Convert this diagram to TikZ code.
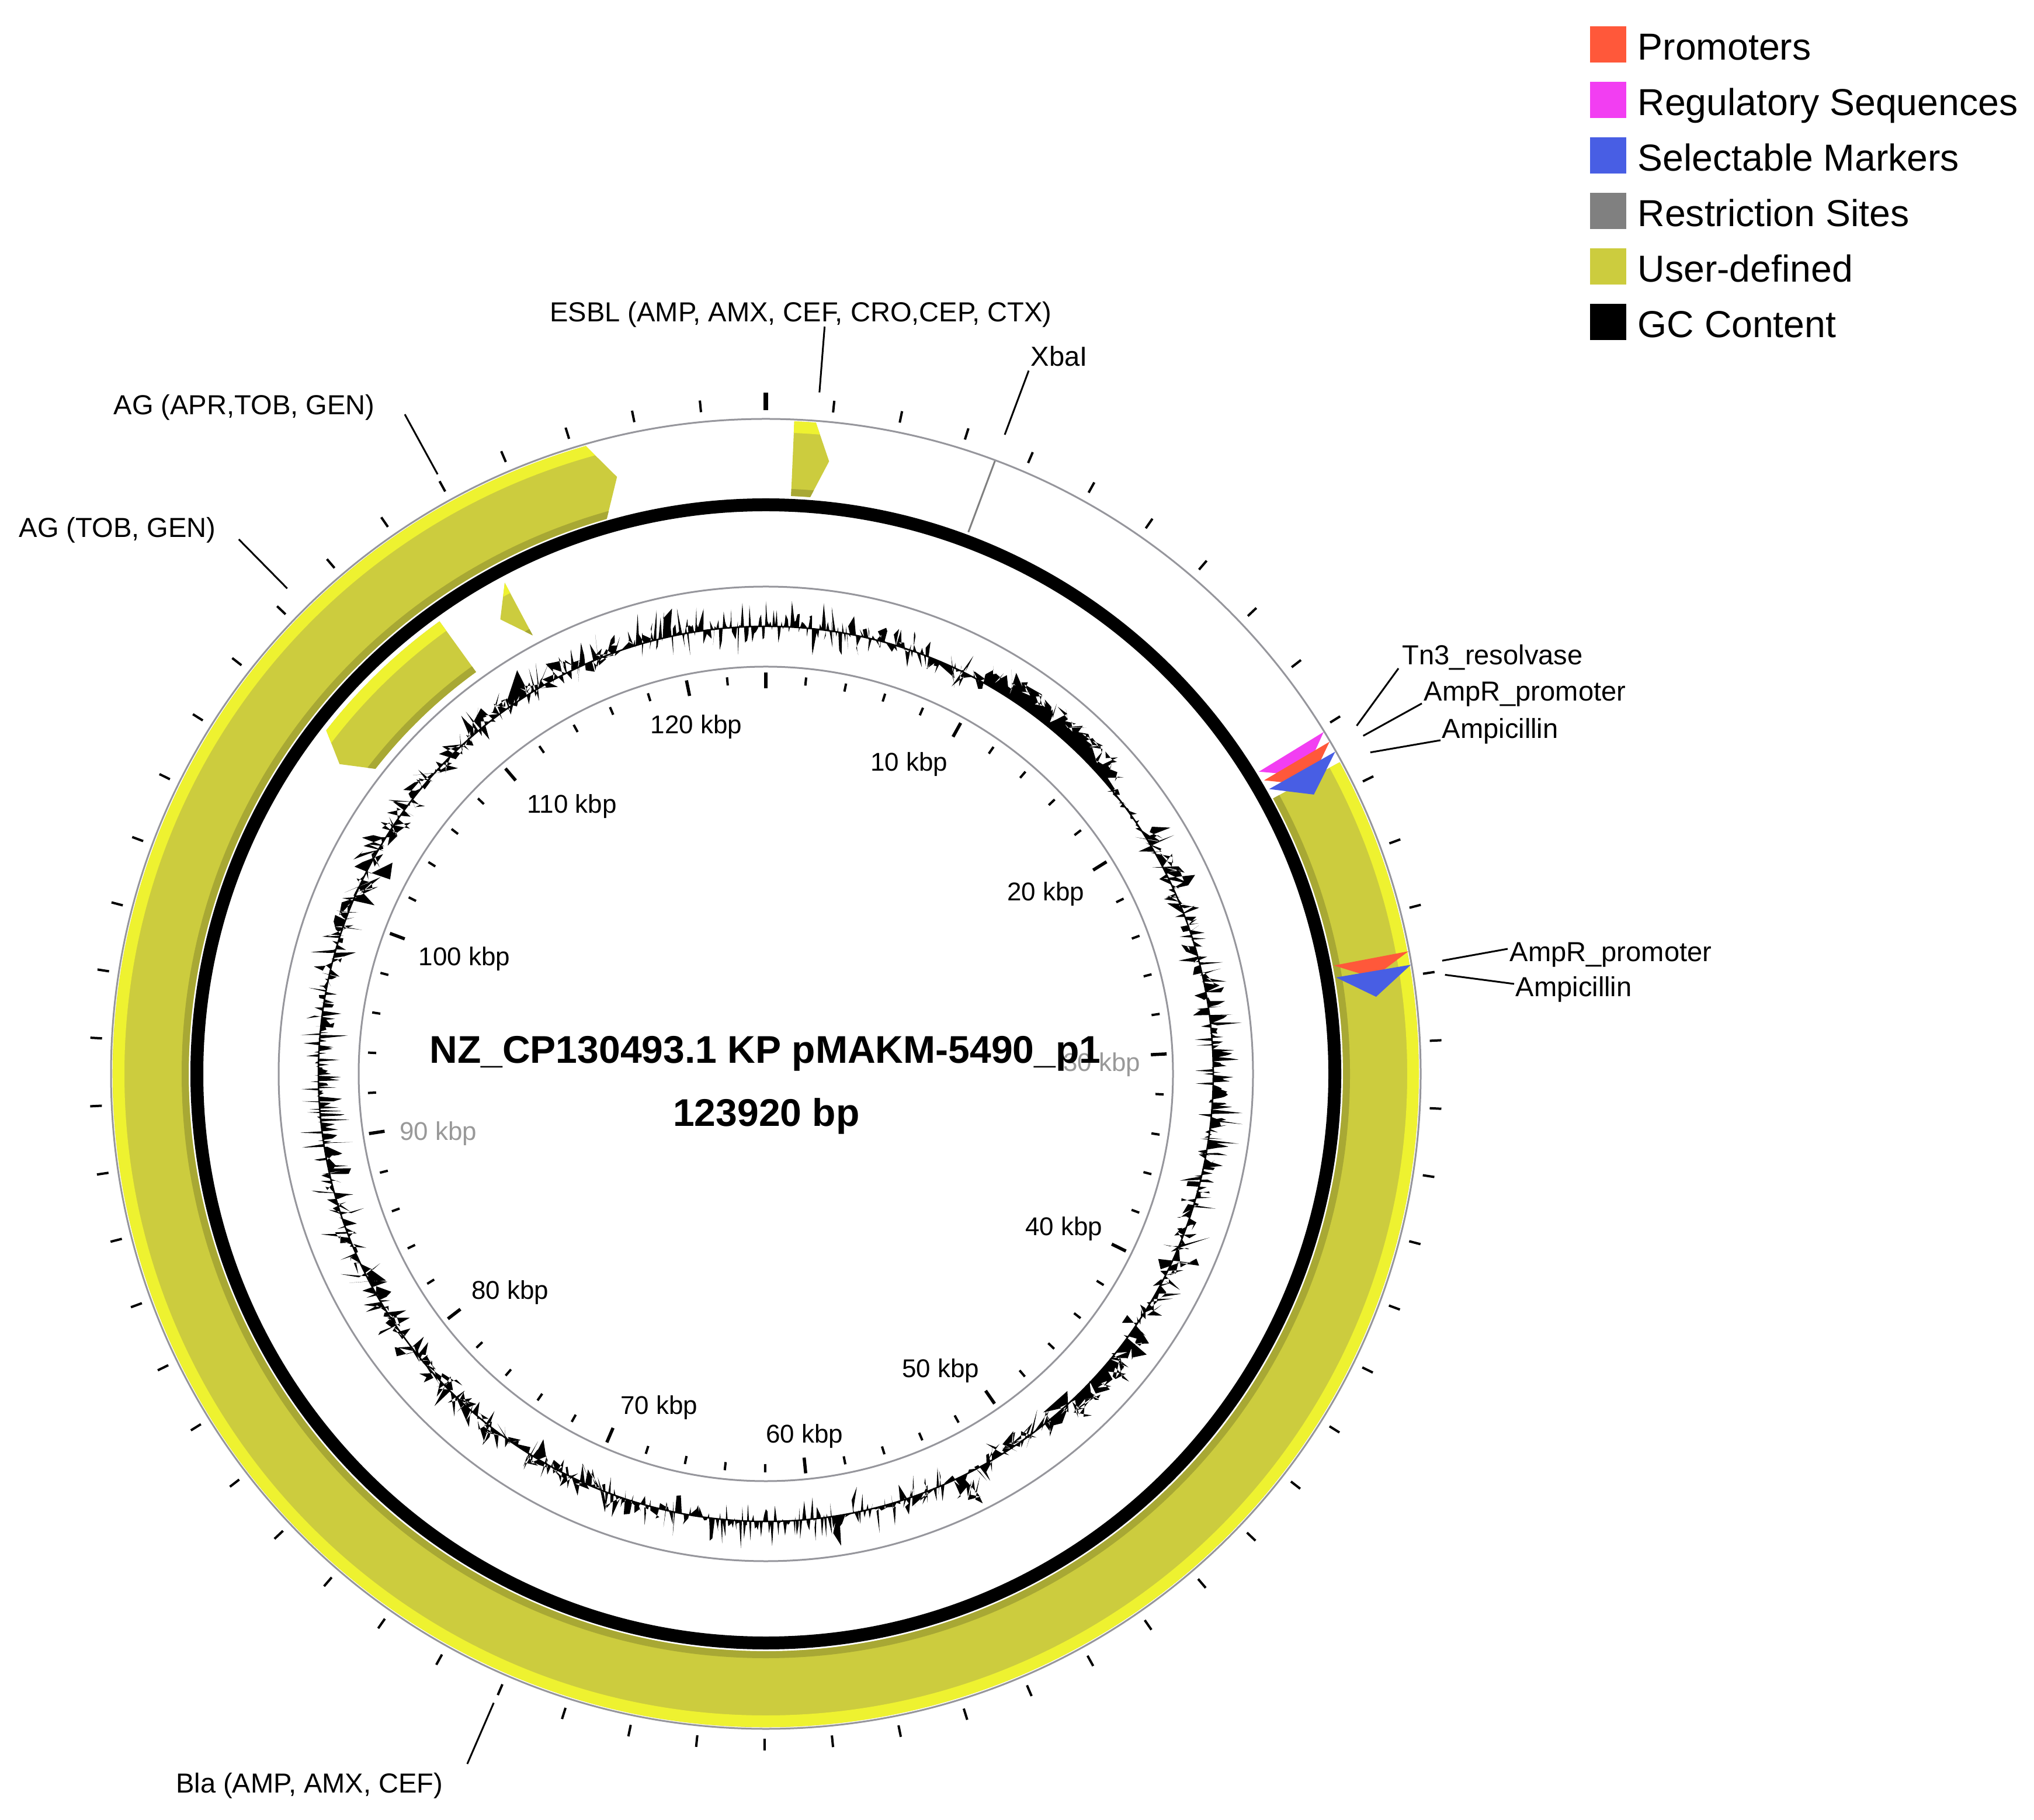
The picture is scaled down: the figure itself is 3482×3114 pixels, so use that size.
\documentclass[tikz,border=0pt]{standalone}
\usepackage{fontspec}
\setmainfont{Liberation Sans}
\definecolor{olivefeat}{RGB}{204,204,62}
\definecolor{brightfeat}{RGB}{238,242,48}
\definecolor{darkfeat}{RGB}{168,168,52}
\definecolor{promcol}{RGB}{255,88,58}
\definecolor{regcol}{RGB}{242,62,242}
\definecolor{selcol}{RGB}{72,94,228}
\definecolor{restcol}{RGB}{128,128,128}
\definecolor{ringgray}{RGB}{150,150,156}

\pgfmathdeclarefunction{gcwin}{3}{\pgfmathparse{and(#1>#2,#1<#3)}}
\pgfmathdeclarefunction{gcbias}{1}{\pgfmathparse{28*gcwin(#1,29,50)+14*gcwin(#1,57,66)+6*gcwin(#1,66,80)+12*gcwin(#1,80,100)+6*gcwin(#1,100,122)+22*gcwin(#1,124,138)+40*gcwin(#1,152.5,155.5)+4*gcwin(#1,160,200)-10*gcwin(#1,256,280)+10*gcwin(#1,318,352)+5*gcwin(#1,-1,20)}}
\pgfmathdeclarefunction{gcamp}{1}{\pgfmathparse{54-38*gcwin(#1,50,57)-18*gcwin(#1,29,50)-12*gcwin(#1,124,138)}}

\newcommand{\featdraw}[3]{%
  \fill[olivefeat] #1;
  \begin{scope}
    \clip #1;
    \fill[brightfeat,even odd rule] (0,0) circle[radius=#3] circle[radius=#3-20];
    \fill[darkfeat,even odd rule] (0,0) circle[radius=#2+12] circle[radius=#2];
  \end{scope}}

\tikzset{
  labtext/.style={font=\fontsize{13.4}{16}\selectfont, inner sep=0pt},
  kbptext/.style={font=\fontsize{12.5}{15}\selectfont, inner sep=0pt},
  legtext/.style={font=\fontsize{18.3}{22}\selectfont, inner sep=0pt, anchor=base west},
  titletext/.style={font=\fontsize{18.8}{22}\selectfont\bfseries, inner sep=0pt, anchor=base},
  leader/.style={black, line width=0.3mm},
  thinring/.style={ringgray, line width=0.3mm},
  outertick/.style={black, line width=0.4mm},
}

\begin{document}
\begin{tikzpicture}[x=0.1mm,y=0.1mm]
\useasboundingbox (0,0) rectangle (3482,3114);
\fill[white] (0,0) rectangle (3482,3114);
\coordinate (C) at (1311,1276);

\begin{scope}[shift={(C)}]
  % ---- outer feature track
  \featdraw{(28.5:988) arc[start angle=28.5,end angle=-254,radius=988] -- (-256:1053) -- (-254:1118) arc[start angle=-254,end angle=28.5,radius=1118] -- cycle}{988}{1118}
  \featdraw{(87.5:990) arc[start angle=87.5,end angle=85.6,radius=990] -- (84.1:1054) -- (85.6:1118) arc[start angle=85.6,end angle=87.5,radius=1118] -- cycle}{990}{1118}
  % ---- inner feature track
  \featdraw{(125.8:848) arc[start angle=125.8,end angle=142,radius=848] -- (144:902) -- (142:955) arc[start angle=142,end angle=125.8,radius=955] -- cycle}{848}{955}
  \featdraw{(118:850) -- (120.3:901) -- (118:952) -- cycle}{850}{952}
  % ---- small markers
  \fill[regcol]  (31.5:990) -- (29:1053) -- (31.5:1120) -- cycle;
  \fill[promcol] (30.5:990) -- (28:1053) -- (30.5:1120) -- cycle;
  \fill[selcol]  (29.5:990) -- (27:1053) -- (29.5:1120) -- cycle;
  \fill[promcol] (10.8:990) -- (9:1053) -- (10.8:1120) -- cycle;
  \fill[selcol]  (9.6:990) -- (7.2:1053) -- (9.6:1120) -- cycle;
  % ---- restriction site
  \draw[restcol, line width=0.3mm] (69.5:990) -- (69.5:1121);
  % ---- rings
  \draw[thinring] (0,0) circle[radius=1121];
  \draw[black, line width=2.2mm] (0,0) circle[radius=974];
  \draw[thinring] (0,0) circle[radius=834];
  \draw[thinring] (0,0) circle[radius=697];
  % ---- GC content
  \pgfmathsetseed{7}
  \fill[black,even odd rule] plot[samples=1801,domain=0:360] ({90-\x}:{766+gcbias(\x)+gcamp(\x)*rand*abs(rand)}) -- cycle (0,0) circle[radius=766];
  \draw[black, line width=0.25mm] (0,0) circle[radius=766];
  % ---- ticks
  \foreach \k in {0,...,61} {
    \pgfmathsetmacro{\ang}{90-5.80988*\k}
    \draw[outertick] (\ang:1138) -- (\ang:1158);
    \pgfmathtruncatemacro{\md}{mod(\k,5)}
    \ifnum\md=0
      \draw[black,line width=0.55mm] (\ang:660) -- (\ang:687);
    \else
      \draw[black,line width=0.4mm] (\ang:668) -- (\ang:682);
    \fi
  }
  \draw[black,line width=0.75mm] (90:1136) -- (90:1166);
  % ---- leader end points
  \coordinate (esblF) at (85.5:1170);   \coordinate (esblL) at (85.5:1283);
  \coordinate (xbaF) at (69.5:1168);    \coordinate (xbaL) at (69.5:1285);
  \coordinate (agaF) at (118.7:1170);   \coordinate (agaL) at (118.7:1287);
  \coordinate (agtF) at (134.6:1167);   \coordinate (agtL) at (134.6:1285);
  \coordinate (blaF) at (-113.4:1173);  \coordinate (blaL) at (-113.4:1287);
  \coordinate (tnF) at (30.5:1174);
  \coordinate (apaF) at (29.5:1175);
  \coordinate (amaF) at (28:1172);
  \coordinate (apbF) at (9.5:1174);
  \coordinate (ambF) at (8.3:1175);
\end{scope}

% ---- tick labels
\node[kbptext] (k120) at (1192,1870) {120 kbp};
\node[kbptext] (k10) at (1556,1806) {10 kbp};
\node[kbptext] (k20) at (1790,1584) {20 kbp};
\node[kbptext] (k30) at (1886,1292) {30 kbp};
\node[kbptext] (k40) at (1821,1011) {40 kbp};
\node[kbptext] (k50) at (1610,768) {50 kbp};
\node[kbptext] (k60) at (1377,656) {60 kbp};
\node[kbptext] (k70) at (1128,705) {70 kbp};
\node[kbptext] (k80) at (873,902) {80 kbp};
\node[kbptext] (k90) at (750,1174) {90 kbp};
\node[kbptext] (k100) at (795,1473) {100 kbp};
\node[kbptext] (k110) at (979,1734) {110 kbp};

% ---- feature labels
\coordinate (tnL) at (2394,1970);
\coordinate (apaL) at (2434,1910);
\coordinate (amaM) at (2454,1845);
\coordinate (amaL) at (2466,1847);
\coordinate (apbL) at (2581,1490);
\coordinate (ambL) at (2592,1430);

\node[labtext,anchor=base] (esbl) at (1371,2563) {ESBL (AMP, AMX, CEF, CRO,CEP, CTX)};
\node[labtext,anchor=base west] (xba) at (1764,2487) {XbaI};
\node[labtext,anchor=base east] (aga) at (642,2404) {AG (APR,TOB, GEN)};
\node[labtext,anchor=base east] (agt) at (370,2194) {AG (TOB, GEN)};
\node[labtext,anchor=base east] (bla) at (759,46) {Bla (AMP, AMX, CEF)};
\node[labtext,anchor=base west] (tn) at (2400,1976) {Tn3\_resolvase};
\node[labtext,anchor=base west] (apa) at (2437,1914) {AmpR\_promoter};
\node[labtext,anchor=base west] (ama) at (2468,1850) {Ampicillin};
\node[labtext,anchor=base west] (apb) at (2584,1468) {AmpR\_promoter};
\node[labtext,anchor=base west] (amb) at (2594,1408) {Ampicillin};

\draw[leader] (esblL) -- (esblF);
\draw[leader] (xbaL) -- (xbaF);
\draw[leader] (agaL) -- (agaF);
\draw[leader] (agtL) -- (agtF);
\draw[leader] (blaL) -- (blaF);
\draw[leader] (tnL) -- (tnF);
\draw[leader] (apaL) -- (apaF);
\draw[leader] (amaL) -- (amaM) -- (amaF);
\draw[leader] (apbL) -- (apbF);
\draw[leader] (ambL) -- (ambF);

% ---- legend
\foreach \i/\c/\t in {0/promcol/Promoters,1/regcol/Regulatory Sequences,2/selcol/Selectable Markers,3/restcol/Restriction Sites,4/olivefeat/User-defined,5/black/GC Content} {
  \fill[\c] (2722,{3007-95*\i}) rectangle (2784,{3069-95*\i});
  \node[legtext] (leg\i) at (2803,{3011-95*\i}) {\t};
}

% ---- title
\fill[white, opacity=0.6] (680,1149) rectangle (1965,1374);
\node[titletext] (title1) at (1310,1294) {NZ\_CP130493.1 KP pMAKM-5490\_p1};
\node[titletext] (title2) at (1312,1187) {123920 bp};
\end{tikzpicture}
\end{document}
